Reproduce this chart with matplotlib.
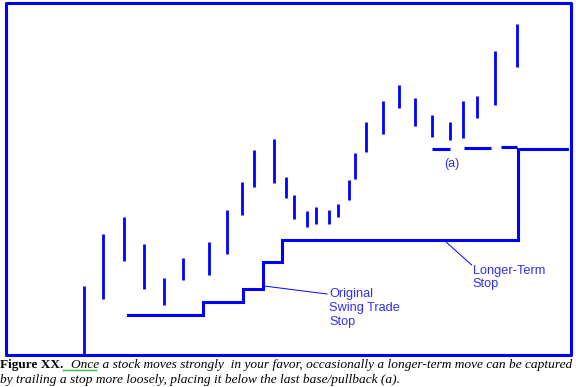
"""
Swing trade stop vs longer-term trailing stop, drawn on a bar chart.
Coordinates are in pixel-like chart units (y grows downward).
"""
import matplotlib
matplotlib.use("Agg")
import matplotlib.pyplot as plt
from matplotlib.patches import Rectangle
import numpy as np

# ---------------------------------------------------------------------------
# Data
# ---------------------------------------------------------------------------
bar_x = [84, 103.3, 124.3, 144, 163.5, 183.3, 208.7, 227, 241.7, 254.3,
         273.7, 286, 294.3, 306.7, 316, 328.7, 338.3, 349.3, 355.3, 366,
         382.7, 398.5, 415, 432.3, 450, 463.3, 477.3, 495, 516.7]
bar_high = [286, 234, 217, 244, 278, 258, 242, 210, 182, 149.5,
            139, 176.7, 195, 210.7, 207.3, 210, 204, 180, 153, 122.3,
            101, 85, 98.3, 115, 122, 101, 96, 51, 24.3]
bar_low = [355, 299, 261, 289, 305, 280, 275, 254, 214.5, 186.7,
           183.3, 198.3, 219.3, 227.3, 224, 224, 216.5, 200, 178.5, 152.3,
           134.3, 108.3, 126, 136.7, 140, 138.3, 118.3, 105, 66.7]

# trailing stop: step levels starting at each x
stop_x = [128, 203, 243, 263, 282, 518, 567]
stop_y = [315, 302, 288.5, 261.5, 240, 148.5, 148.5]

# base/pullback (a) dashed level
base_x0 = [431.7, 464, 501.3]
base_x1 = [450, 491, 516.7]
base_y = [149, 147.5, 147]

CAPTION_1 = "Once a stock moves strongly  in your favor, occasionally a longer-term move can be captured"
CAPTION_2 = "by trailing a stop more loosely, placing it below the last base/pullback (a)."

BLUE = "#0000FF"
LABEL_BLUE = "#3030f0"

fig = plt.figure(figsize=(5.76, 3.87), dpi=100)
ax = fig.add_axes([0, 0, 1, 1])
ax.set_xlim(0, 576)
ax.set_ylim(387, 0)
ax.axis("off")

# frame
ax.add_patch(Rectangle((6, 3), 565, 352, fill=False, edgecolor=BLUE,
                       linewidth=2.2, joinstyle="round"))

# price bars
ax.vlines(bar_x, bar_high, bar_low, color=BLUE, linewidth=2.0)

# stop line
ax.step(stop_x, stop_y, where="post", color=BLUE, linewidth=2.2,
        solid_joinstyle="miter")

# base dashes
ax.hlines(base_y, base_x0, base_x1, color=BLUE, linewidth=2.2)
ax.text(452, 164, "(a)", color=LABEL_BLUE, fontsize=9,
        family="Liberation Sans", ha="center", va="center")

# annotations
ax.plot([264, 327], [286, 294], color=BLUE, linewidth=0.7)
ax.text(329, 308.3, "Original\nSwing Trade\nStop", color=LABEL_BLUE,
        fontsize=9.2, family="Liberation Sans", ha="left", va="center",
        linespacing=1.22)
ax.plot([445.7, 471.7], [241.7, 265], color=BLUE, linewidth=0.7)
ax.text(472.7, 277.5, "Longer-Term\nStop", color=LABEL_BLUE,
        fontsize=9.2, family="Liberation Sans", ha="left", va="center",
        linespacing=1.22)

# caption
fig.canvas.draw()
renderer = fig.canvas.get_renderer()
ax.text(0, 368, "Figure XX.", fontsize=9.5, family="Liberation Serif",
        weight="bold", ha="left", va="baseline")

# size the italic caption so line 1 runs from x=71 to x=571
probe = ax.text(0, 0, CAPTION_1, fontsize=10, family="Liberation Serif",
                style="italic")
w = probe.get_window_extent(renderer).width
probe.remove()
cap_size = 10 * 500 / w

ax.text(71, 368, CAPTION_1, fontsize=cap_size, family="Liberation Serif",
        style="italic", ha="left", va="baseline")
ax.text(0, 383, CAPTION_2, fontsize=cap_size, family="Liberation Serif",
        style="italic", ha="left", va="baseline")

# grammar squiggle under the gap before "Once"
sx = np.linspace(63, 97, 35)
ax.plot(sx, 370.5 + 0.6 * np.where(np.arange(35) % 2 == 0, 1, -1),
        color="#22aa22", linewidth=0.6)

fig.savefig("out.png", dpi=100)
